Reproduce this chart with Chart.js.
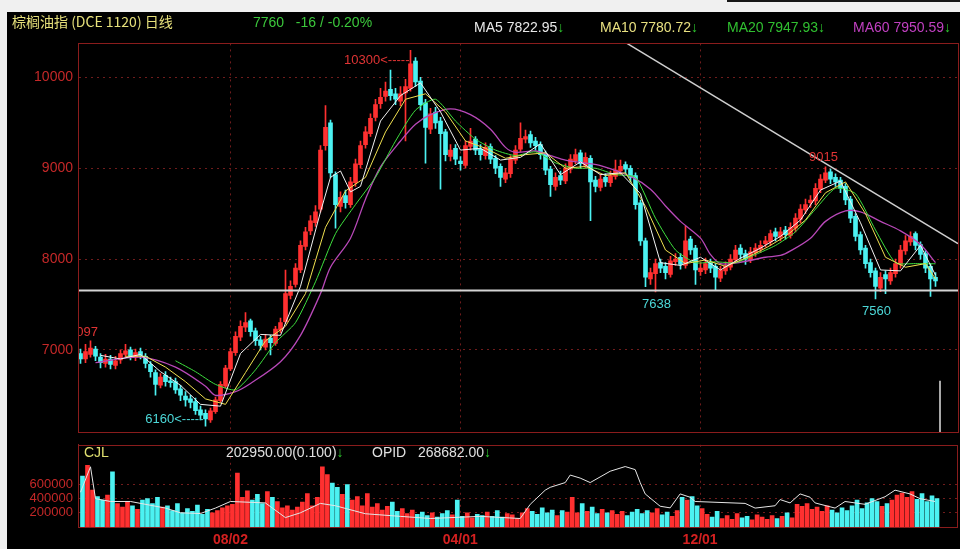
<!DOCTYPE html>
<html>
<head>
<meta charset="utf-8">
<script src="https://cdn.jsdelivr.net/npm/chart.js@4.4.0/dist/chart.umd.min.js"></script>
<style>
  html, body { margin: 0; padding: 0; background: #f0f0f0; }
  body { width: 960px; height: 549px; position: relative; overflow: hidden; font-family: "Liberation Sans", Arial, sans-serif; }
  #panel { position: absolute; left: 7px; top: 12px; width: 953px; height: 537px; background: #000; }
  #topline { position: absolute; left: 727px; top: 0; width: 233px; height: 2px; background: #161616; }
  canvas { position: absolute; left: 7px; }
  #main { top: 30px; }
  #vol { top: 432px; }
  .t { position: absolute; white-space: nowrap; font-size: 14px; line-height: 16px; }
  .dn { color: #2ec82e; }
</style>
</head>
<body>
<div id="panel"></div>
<div id="topline"></div>
<canvas id="main" width="953" height="416"></canvas>
<canvas id="vol" width="953" height="117"></canvas>

<div class="t" style="left:12px;top:13px;color:#e6e07a;font-family:'Noto Sans CJK SC';">棕榈油指 (DCE 1120) 日线</div>
<div class="t" style="left:253px;top:14px;color:#3cc83c;">7760&nbsp;&nbsp;&nbsp;-16 / -0.20%</div>
<div class="t" style="left:474px;top:19px;color:#e8e8e8;">MA5 7822.95<span class="dn">↓</span></div>
<div class="t" style="left:600px;top:19px;color:#e8e080;">MA10 7780.72<span class="dn">↓</span></div>
<div class="t" style="left:727px;top:19px;color:#30c030;">MA20 7947.93<span class="dn">↓</span></div>
<div class="t" style="left:853px;top:19px;color:#c040c0;">MA60 7950.59<span class="dn">↓</span></div>
<div class="t" style="left:84px;top:444px;color:#e0e070;">CJL</div>
<div class="t" style="left:226px;top:444px;color:#e0e0e0;">202950.00(0.100)<span class="dn">↓</span></div>
<div class="t" style="left:372px;top:444px;color:#e0e0e0;">OPID&nbsp;&nbsp;&nbsp;268682.00<span class="dn">↓</span></div>

<script>
// 日K数据
const open = [6960,6900,6950,7010,6920,6850,6900,6830,6890,6950, 7000,6920,6980,6930,6840,6750,6610,6720,6660,6650,
  6570,6490,6460,6430,6340,6300,6230,6320,6440,6600, 6790,6970,7140,7250,7320,7210,7110,7030,7130,7070,
  7220,7310,7600,7720,7880,8140,8310,8400,8550,9250, 9500,8930,8580,8700,8600,8840,9040,9260,9380,9560,
  9710,9790,9870,9820,9740,9830,9880,10180,9960,9720, 9430,9620,9520,9400,9130,9220,9080,9030,9240,9320,
  9210,9140,9240,9110,9020,8880,8940,9090,9210,9320, 9370,9300,9260,9160,8990,8800,8920,8860,8990,9080,
  9170,9030,9110,8870,8790,8900,8840,8910,8970,9040, 9000,8920,8620,8200,7780,7840,7960,7920,7830,7970,
  8020,7930,8220,8120,7860,7880,7960,7920,7790,7870, 7910,7990,8120,8060,7990,8070,8110,8170,8190,8300,
  8240,8320,8260,8340,8440,8540,8620,8640,8770,8870, 8960,8900,8870,8800,8660,8470,8270,8120,7960,7870,
  7680,7830,7760,7840,7940,8090,8190,8280,8160,8060, 7920,7800];
const close = [6900,6980,7020,6930,6860,6900,6840,6880,6960,6990, 6930,6970,6940,6850,6760,6620,6700,6650,6640,6560,
  6500,6450,6420,6330,6280,6240,6330,6450,6620,6800, 6980,7150,7260,7300,7200,7100,7050,7120,7080,7230,
  7300,7620,7700,7900,8150,8300,8420,8520,9200,9450, 8950,8600,8680,8620,8850,9050,9250,9400,9550,9700,
  9780,9850,9800,9760,9820,9900,10150,9950,9700,9450, 9600,9500,9380,9150,9200,9100,9050,9250,9300,9200,
  9150,9230,9100,9000,8900,8950,9100,9200,9330,9350, 9280,9250,9150,8980,8820,8900,8870,9000,9100,9150,
  9050,9120,8850,8800,8880,8850,8920,8980,9020,8990, 8900,8600,8200,7800,7850,7950,7900,7850,7980,8000,
  7940,8200,8100,7880,7900,7950,7900,7800,7880,7920, 8000,8100,8050,8000,8080,8120,8150,8200,8280,8250,
  8300,8270,8350,8450,8550,8600,8650,8780,8880,8950, 8880,8850,8780,8650,8450,8250,8100,7950,7850,7700,
  7800,7780,7850,7950,8100,8200,8250,8150,8050,7900, 7780,7760];
const high = [7010,7060,7100,7040,6960,6950,6940,6930,7000,7060, 7030,7010,7020,6960,6870,6780,6740,6760,6700,6690,
  6610,6540,6500,6470,6380,6340,6360,6480,6650,6830, 7020,7200,7320,7410,7340,7240,7150,7170,7160,7260,
  7350,7880,7760,7950,8200,8350,8480,8590,9250,9690, 9530,8960,8740,8760,8900,9100,9300,9460,9600,9760,
  9880,9950,10080,9880,9900,9980,10300,10220,10000,9760, 9660,9670,9560,9430,9260,9260,9130,9300,9440,9350,
  9260,9280,9270,9140,9050,9000,9140,9250,9500,9420, 9410,9340,9290,9190,9020,8950,8970,9050,9150,9210,
  9200,9170,9140,8910,8930,8940,8970,9090,9090,9070, 9030,8950,8650,8230,7900,8000,8000,7960,8030,8060,
  8060,8360,8250,8150,7960,8010,8000,7950,7920,7970, 8050,8150,8160,8100,8130,8170,8200,8250,8320,8340,
  8350,8360,8400,8500,8600,8660,8700,8830,8930,9015, 8990,8940,8900,8830,8690,8500,8300,8150,8000,7900,
  7850,7870,7900,8000,8150,8260,8300,8300,8190,8090, 7950,7850];
const low = [6850,6860,6920,6880,6800,6810,6790,6790,6850,6920, 6890,6880,6900,6800,6700,6500,6580,6600,6590,6520,
  6440,6380,6360,6290,6230,6160,6200,6300,6420,6580, 6770,6940,7100,7200,7150,7050,7000,7000,6945,7050,
  7190,7290,7560,7690,7850,8100,8270,8360,8520,9200, 8900,8340,8520,8560,8570,8800,9000,9220,9350,9520,
  9660,9740,9750,9700,9690,9300,9850,9900,9640,9057, 9380,9440,8770,9080,9080,9040,8980,9000,9200,9150,
  9090,9100,9050,8940,8800,8840,8900,9050,9180,9280, 9230,9200,9100,8930,8690,8760,8820,8830,8950,9050,
  9000,9000,8424,8740,8750,8800,8800,8880,8930,8940, 8850,8550,8150,7695,7720,7638,7850,7780,7800,7930,
  7890,7900,8050,7720,7820,7840,7850,7660,7750,7830, 7880,7960,8000,7940,7960,8030,8070,8130,8150,8200,
  8200,8220,8230,8300,8400,8500,8570,8600,8730,8840, 8830,8800,8730,8600,8400,8200,8050,7900,7800,7560,
  7640,7620,7720,7800,7900,8050,8150,8100,8000,7850, 7590,7700];
// 成交量 (千手)
const volK = [720,870,520,430,380,450,780,330,280,350, 300,250,380,400,330,420,280,300,230,330,
  200,260,220,310,180,250,200,230,270,300, 320,760,420,510,380,460,330,500,420,360,
  270,300,240,280,350,470,300,420,850,740, 620,560,460,600,380,430,300,470,280,330,
  240,290,350,220,260,190,240,180,210,160, 200,140,190,230,170,380,150,200,130,180,
  160,210,150,230,140,190,170,120,200,260, 220,180,270,200,240,160,230,210,420,200,
  330,220,280,190,250,200,230,180,220,160, 210,250,190,230,200,260,170,210,150,230,
  420,380,430,300,260,180,140,220,120,160, 110,190,130,150,100,170,140,110,160,120,
  150,200,130,320,290,330,250,280,220,300, 240,200,270,230,300,380,260,340,400,360,
  290,330,380,450,480,420,500,390,470,360, 440,400];
// 均线与持仓：[K线序号, 数值]
const ma5 = [[4,6940],[8,6900],[12,6950],[16,6760],[20,6610],[24,6400],[28,6380],[32,6960],[36,7170],[40,7160],
  [44,7700],[48,8520],[50,8900],[52,8970],[54,8740],[56,8800],[60,9520],[64,9800],[68,9940],[72,9620],
  [76,9200],[80,9220],[84,9090],[88,9120],[92,9270],[96,8930],[100,9070],[104,8930],[108,8950],[112,8720],
  [116,7960],[120,7930],[124,8020],[128,7880],[132,8010],[136,8120],[140,8250],[144,8430],[148,8760],[152,8860],
  [156,8400],[160,7880],[164,7870],[168,8150],[171,7823]];
const ma10 = [[9,6930],[13,6930],[17,6810],[21,6650],[25,6460],[29,6400],[33,6750],[37,7100],[41,7260],[45,7620],
  [49,8350],[53,8750],[57,8900],[61,9400],[65,9760],[69,9820],[73,9620],[77,9300],[81,9220],[85,9110],
  [89,9150],[93,9170],[97,9000],[101,9020],[105,8920],[109,8950],[113,8580],[117,8100],[121,7950],[125,7990],
  [129,7920],[133,8010],[137,8120],[141,8250],[145,8430],[149,8730],[153,8850],[157,8500],[161,8020],[165,7910],
  [169,7950],[171,7781]];
const ma20 = [[19,6880],[23,6760],[27,6620],[31,6560],[35,6780],[39,7080],[43,7300],[47,7750],[51,8280],[55,8600],
  [59,8900],[63,9300],[67,9640],[71,9760],[75,9520],[79,9320],[83,9200],[87,9140],[91,9180],[95,9060],
  [99,9000],[103,9000],[107,8930],[111,8900],[115,8450],[119,8100],[123,7960],[127,7970],[131,7960],[135,8050],
  [139,8150],[143,8300],[147,8550],[151,8780],[155,8720],[159,8320],[163,7960],[167,7950],[171,7948]];
const ma60 = [[3,6860],[12,6920],[19,6810],[25,6600],[27,6500],[31,6540],[34,6630],[40,6870],[44,7160],[48,7620],
  [50,7910],[54,8230],[57,8660],[60,9015],[64,9300],[67,9485],[70,9590],[74,9655],[78,9590],[82,9430],
  [85,9230],[87,9175],[91,9190],[94,9140],[97,9090],[101,9057],[104,9030],[110,8910],[114,8770],[117,8585],
  [120,8415],[124,8230],[126,8050],[128,7950],[132,7965],[137,8020],[140,8040],[142,8090],[146,8230],[149,8415],
  [153,8530],[156,8520],[160,8415],[164,8310],[168,8160],[171,7960]];
const opidK = [[0,490],[2,850],[3,400],[6,360],[10,360],[17,267],[20,200],[24,190],[27,267],[30,360],
  [37,340],[41,133],[44,200],[48,333],[51,300],[57,187],[64,150],[70,120],[80,150],[88,120],
  [90,320],[93,520],[94,560],[97,627],[98,733],[100,690],[102,627],[106,787],[109,853],[111,810],
  [112,627],[113,467],[116,293],[118,270],[120,467],[122,420],[123,360],[133,333],[135,267],[139,300],
  [140,387],[142,340],[144,467],[146,420],[147,340],[151,267],[153,360],[157,320],[161,427],[163,520],
  [166,467],[168,400],[171,360]];
// 画线：支撑线、下降趋势线、光标竖线
const supportLine = [[-0.5,7653],[175.5,7653]];
const trendLine = [[109.3,10375],[175.5,8170]];
const cursorLine = [[171.9,6660],[171.9,6089]];
// 高低点标注
const marks = [
  {i: 66, v: 10300, text: '10300<-----', kind: 'peakLeft'},
  {i: 25, v: 6160, text: '6160<-----', kind: 'lowLeft'},
  {i: 149, v: 9015, text: '9015', kind: 'peak'},
  {i: 115, v: 7638, text: '7638', kind: 'low'},
  {i: 159, v: 7560, text: '7560', kind: 'low'},
  {i: 1, v: 7097, text: '7097', kind: 'peak'}
];
const dateTicks = {30: '08/02', 76: '04/01', 124: '12/01'};
const priceTicks = [7000, 8000, 9000, 10000];
const volTicks = [200000, 400000, 600000];

const N = 176;
const labels = Array.from({length: N}, (_, i) => dateTicks[i] || '');
const RED = '#ff3030', CYAN = '#4cf2f2', GRID = '#701c1c', FRAME = '#8a1c1c', AXIS = '#c42828';
const barColors = close.map((c, i) => c >= open[i] ? RED : CYAN);
const pts = arr => arr.map(([x, y]) => ({x, y}));

Chart.defaults.font.family = '"Liberation Sans", Arial, sans-serif';

function line(arr, color, width, tension, order) {
  return {type: 'line', xAxisID: 'xl', data: pts(arr), borderColor: color, borderWidth: width,
    pointRadius: 0, tension: tension, order: order};
}

const framePlugin = {
  id: 'frame',
  afterDraw(chart) {
    const a = chart.chartArea, ctx = chart.ctx;
    ctx.save();
    ctx.strokeStyle = FRAME;
    ctx.lineWidth = 1;
    ctx.strokeRect(Math.round(a.left) + 0.5, Math.round(a.top) + 0.5, Math.round(a.width), Math.round(a.height));
    ctx.restore();
  }
};

const marksPlugin = {
  id: 'marks',
  afterDatasetsDraw(chart) {
    const ctx = chart.ctx, a = chart.chartArea;
    const xs = chart.scales.xl, ys = chart.scales.y;
    ctx.save();
    ctx.beginPath();
    ctx.rect(a.left, a.top, a.width, a.height);
    ctx.clip();
    ctx.font = '13px "Liberation Sans", Arial, sans-serif';
    ctx.textBaseline = 'middle';
    marks.forEach(m => {
      const x = xs.getPixelForValue(m.i), y = ys.getPixelForValue(m.v);
      if (m.kind === 'peakLeft') {
        ctx.fillStyle = '#e03434'; ctx.textAlign = 'right'; ctx.fillText(m.text, x - 1, y + 10);
      } else if (m.kind === 'lowLeft') {
        ctx.fillStyle = '#4cd8d8'; ctx.textAlign = 'right'; ctx.fillText(m.text, x - 2, y - 7);
      } else if (m.kind === 'peak') {
        ctx.fillStyle = '#e03434'; ctx.textAlign = 'center'; ctx.fillText(m.text, x - 2, y - 9);
      } else {
        ctx.fillStyle = '#4cd8d8'; ctx.textAlign = 'center'; ctx.fillText(m.text, x + 1, y + 12);
      }
    });
    ctx.restore();
  }
};

const gridColor = c => labels[c.index] ? GRID : 'rgba(0,0,0,0)';
const plain = v => String(v);

new Chart(document.getElementById('main'), {
  type: 'bar',
  data: {
    labels: labels,
    datasets: [
      line(supportLine, '#d4d4d4', 2, 0, 0),
      line(trendLine, '#cfcfcf', 1.5, 0, 0),
      line(cursorLine, '#e0e0e0', 1.5, 0, 0),
      line(ma5, '#f2f2f2', 1, 0, 1),
      line(ma10, '#f0e050', 1, 0, 1),
      line(ma20, '#3ee03e', 1, 0.2, 1),
      line(ma60, '#b848b8', 1.3, 0.3, 1),
      {xAxisID: 'x', data: open.map((o, i) => [o, close[i]]), backgroundColor: barColors,
        barThickness: 4, grouped: false, minBarLength: 1, order: 3},
      {xAxisID: 'x', data: low.map((l, i) => [l, high[i]]), backgroundColor: barColors,
        barThickness: 1, grouped: false, order: 4}
    ]
  },
  options: {
    responsive: false,
    animation: false,
    layout: {padding: {top: 8, bottom: 8, left: 0, right: 2}},
    plugins: {legend: {display: false}, tooltip: {enabled: false}},
    scales: {
      x: {type: 'category', offset: true, ticks: {display: false},
        grid: {offset: false, drawTicks: false, color: gridColor},
        border: {display: false, dash: [2, 4]}},
      xl: {type: 'linear', display: false, offset: false, min: -0.5, max: N - 0.5},
      y: {min: 6089, max: 10375,
        afterBuildTicks: s => { s.ticks = priceTicks.map(v => ({value: v})); },
        afterFit: s => { s.width = 71; },
        ticks: {color: AXIS, font: {size: 14}, padding: 5, callback: plain},
        grid: {color: GRID, drawTicks: false},
        border: {color: FRAME, dash: [2, 4]}}
    }
  },
  plugins: [framePlugin, marksPlugin]
});

new Chart(document.getElementById('vol'), {
  type: 'bar',
  data: {
    labels: labels,
    datasets: [
      {type: 'line', xAxisID: 'xl', data: pts(opidK.map(([i, v]) => [i, v * 1000])), borderColor: '#e6e6e6',
        borderWidth: 1, pointRadius: 0, order: 1},
      {xAxisID: 'x', data: volK.map(v => v * 1000), backgroundColor: barColors, barThickness: 4, order: 2}
    ]
  },
  options: {
    responsive: false,
    animation: false,
    layout: {padding: {top: 8, bottom: 0, left: 0, right: 2}},
    plugins: {legend: {display: false}, tooltip: {enabled: false}},
    scales: {
      x: {type: 'category', offset: true,
        ticks: {color: '#d42020', font: {size: 14, weight: 'bold'}, autoSkip: false, maxRotation: 0, minRotation: 0, padding: 5},
        grid: {offset: false, drawTicks: false, color: gridColor},
        border: {display: false, dash: [2, 4]},
        afterFit: s => { s.height = 22; }},
      xl: {type: 'linear', display: false, offset: false, min: -0.5, max: N - 0.5},
      y: {min: 0, max: 1160000,
        afterBuildTicks: s => { s.ticks = volTicks.map(v => ({value: v})); },
        afterFit: s => { s.width = 71; },
        ticks: {color: AXIS, font: {size: 13}, padding: 5, callback: plain},
        grid: {color: GRID, drawTicks: false},
        border: {color: FRAME, dash: [2, 4]}}
    }
  },
  plugins: [framePlugin]
});
</script>
</body>
</html>
